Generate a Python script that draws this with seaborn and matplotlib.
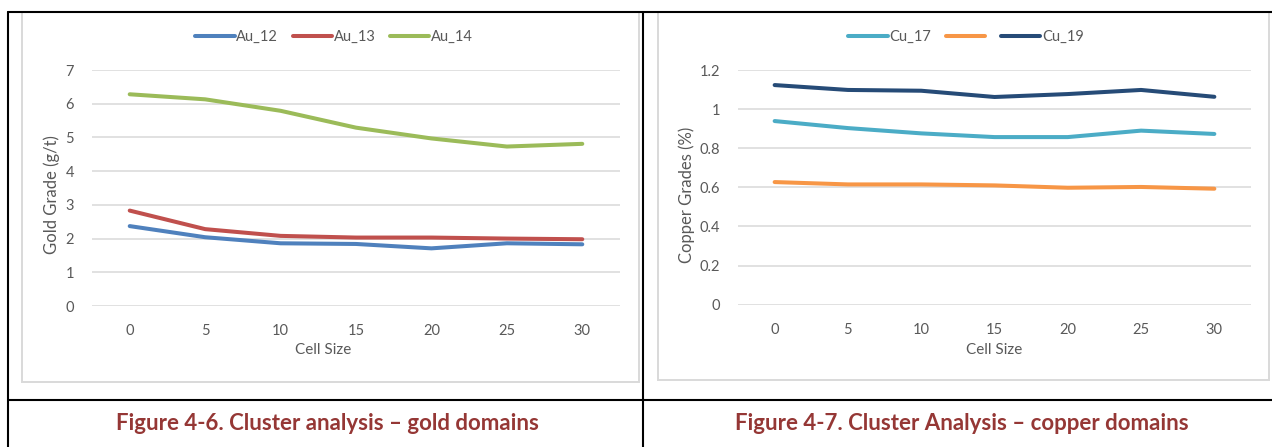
import matplotlib
matplotlib.use("Agg")
import matplotlib.pyplot as plt
from matplotlib.lines import Line2D
from matplotlib.patches import Rectangle
import seaborn as sns
import pandas as pd

# Cell sizes used in the declustering runs
cell_sizes = [0, 5, 10, 15, 20, 25, 30]

# Gold domains (g/t)
au_labels = ["Au_12", "Au_13", "Au_14"]
au_12 = [2.37, 2.04, 1.86, 1.84, 1.71, 1.86, 1.83]
au_13 = [2.83, 2.28, 2.08, 2.03, 2.03, 2.00, 1.98]
au_14 = [6.28, 6.13, 5.79, 5.29, 4.97, 4.73, 4.81]

# Copper domains (%)
cu_labels = ["Cu_17", "", "Cu_19"]
cu_17 = [0.939, 0.903, 0.876, 0.857, 0.857, 0.890, 0.873]
cu_18 = [0.627, 0.615, 0.615, 0.610, 0.598, 0.602, 0.593]
cu_19 = [1.123, 1.098, 1.094, 1.062, 1.077, 1.098, 1.063]

au_ticks = [0, 1, 2, 3, 4, 5, 6, 7]
cu_ticks = [0, 0.2, 0.4, 0.6, 0.8, 1.0, 1.2]
cu_tick_labels = ["0", "0.2", "0.4", "0.6", "0.8", "1", "1.2"]

au_colors = ["#4F81BD", "#C0504D", "#9BBB59"]
cu_colors = ["#4BACC6", "#F79646", "#264B77"]

sns.set_theme(style="white")
plt.rcParams["font.family"] = ["Lato", "DejaVu Sans"]

W, H = 1272, 447
fig = plt.figure(figsize=(W / 100, H / 100), dpi=100)
fig.patch.set_facecolor("white")

TXT = "#595959"
GRID = "#D9D9D9"


def fx(px):
    return px / W


def fy(py):
    return 1 - py / H


def draw_panel(rect, series, labels, colors, yticks, ytlabels, ylim,
               ylabel, legend_x, xlabel_x, ylabel_x):
    ax = fig.add_axes(rect)
    for vals, col in zip(series, colors):
        df = pd.DataFrame({"cell": range(len(cell_sizes)), "grade": vals})
        sns.lineplot(data=df, x="cell", y="grade", ax=ax, color=col,
                     linewidth=2.9, solid_capstyle="round", legend=False)
    ax.set_xlim(-0.5, len(cell_sizes) - 0.5)
    ax.set_ylim(*ylim)
    ax.set_xticks(range(len(cell_sizes)))
    ax.set_xticklabels([str(c) for c in cell_sizes])
    ax.set_yticks(yticks)
    ax.set_yticklabels(ytlabels)
    ax.tick_params(axis="both", length=0, labelsize=10.5, colors=TXT)
    ax.tick_params(axis="y", pad=13)
    ax.tick_params(axis="x", pad=13)
    for s in ax.spines.values():
        s.set_visible(False)
    ax.grid(False)
    for t in yticks:
        ax.axhline(t, color=GRID, linewidth=1.1, zorder=0)
    ax.set_xlabel("")
    ax.set_ylabel("")
    fig.text(fx(xlabel_x), fy(350), "Cell Size", ha="center", va="center",
             fontsize=11, color=TXT)
    fig.text(fx(ylabel_x), fy(195), ylabel, ha="center", va="center",
             rotation=90, fontsize=12, color=TXT)
    handles = [Line2D([], [], color=c, linewidth=2.9, solid_capstyle="round")
               for c in colors]
    fig.legend(handles, labels, loc="center", ncol=3, frameon=False,
               bbox_to_anchor=(fx(legend_x), fy(37)), fontsize=10.5,
               labelcolor=TXT, handlelength=2.7, handletextpad=0.1,
               columnspacing=1.0)
    return ax


draw_panel([fx(92), fy(306), fx(620 - 92), (306 - 70) / H],
           [au_12, au_13, au_14], au_labels, au_colors,
           au_ticks, [str(t) for t in au_ticks], (0, 7),
           "Gold Grade (g/t)", 334, 323, 52)

draw_panel([fx(738), fy(304.7), fx(1251 - 738), (304.7 - 70) / H],
           [cu_17, cu_18, cu_19], cu_labels, cu_colors,
           cu_ticks, cu_tick_labels, (0, 1.2),
           "Copper Grades (%)", 966, 994, 687)

# light chart frames
fig.add_artist(Rectangle((fx(22), fy(382)), fx(639 - 22), (382 - 12) / H,
                         transform=fig.transFigure, fill=False,
                         edgecolor=GRID, linewidth=1.4))
fig.add_artist(Rectangle((fx(658), fy(380)), fx(1269 - 658), (380 - 12) / H,
                         transform=fig.transFigure, fill=False,
                         edgecolor=GRID, linewidth=1.4))

# table rules
rule = dict(color="black", linewidth=1.5, transform=fig.transFigure)
fig.add_artist(Line2D([fx(8), 1], [fy(12), fy(12)], **rule))
fig.add_artist(Line2D([fx(8), 1], [fy(400), fy(400)], **rule))
fig.add_artist(Line2D([fx(8), fx(8)], [0, fy(12)], **rule))
fig.add_artist(Line2D([fx(643), fx(643)], [0, fy(12)], **rule))

# captions
cap = dict(ha="center", va="center", fontsize=16, fontweight="bold",
           color="#953735")
fig.text(fx(327), fy(424), "Figure 4-6. Cluster analysis \u2013 gold domains", **cap)
fig.text(fx(962), fy(424), "Figure 4-7. Cluster Analysis \u2013 copper domains", **cap)

fig.savefig("out.png", dpi=100, facecolor="white")
